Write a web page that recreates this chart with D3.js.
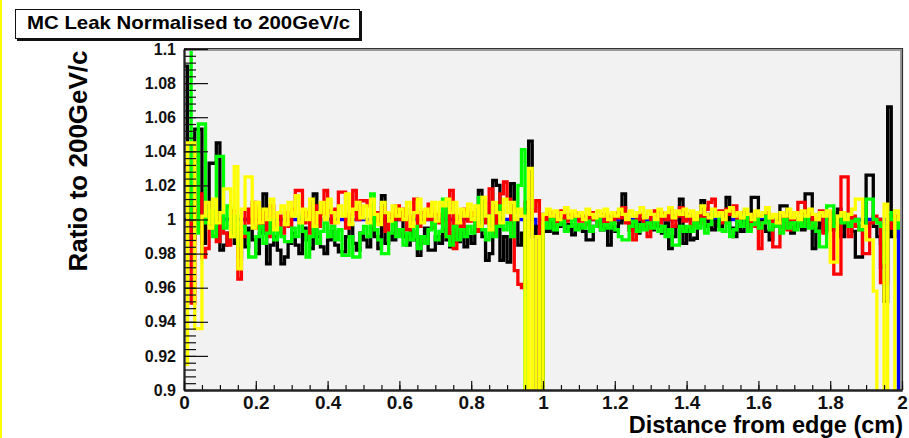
<!DOCTYPE html>
<html>
<head>
<meta charset="utf-8">
<script src="https://cdn.jsdelivr.net/npm/d3@7"></script>
<style>
  body { margin: 0; background: #fff; }
  svg { display: block; font-family: "Liberation Sans", Arial, Helvetica, sans-serif; }
</style>
</head>
<body>
<svg id="chart" width="909" height="438"></svg>
<script>
// 200 bins of 0.01 cm between 0 and 2 cm
let binWidth = 0.01

let xTicks = [0, 0.2, 0.4, 0.6, 0.8, 1, 1.2, 1.4, 1.6, 1.8, 2]
let xTickLabels = ["0", "0.2", "0.4", "0.6", "0.8", "1", "1.2", "1.4", "1.6", "1.8", "2"]
let yTicks = [0.9, 0.92, 0.94, 0.96, 0.98, 1, 1.02, 1.04, 1.06, 1.08, 1.1]
let yTickLabels = ["0.9", "0.92", "0.94", "0.96", "0.98", "1", "1.02", "1.04", "1.06", "1.08", "1.1"]

let blackRatio = [
    1.090, 1.010, 0.988, 1.053, 1.053, 0.986, 1.000, 1.033, 1.033, 1.045,
    0.982, 0.985, 0.992, 1.000, 0.986, 0.978, 0.990, 0.984, 0.995, 0.988,
    0.980, 0.992, 1.015, 0.974, 0.985, 0.990, 0.982, 0.974, 0.978, 0.986,
    0.992, 0.985, 0.980, 0.995, 0.988, 0.983, 1.015, 0.990, 0.984, 0.980,
    0.988, 0.993, 0.985, 0.981, 0.981, 0.990, 0.996, 0.986, 0.982, 0.992,
    0.988, 0.984, 0.995, 0.990, 0.983, 1.014, 0.986, 0.992, 0.988, 1.004,
    1.005, 0.990, 0.985, 0.993, 0.988, 0.979, 0.990, 0.995, 0.982, 0.982,
    0.990, 0.986, 0.994, 0.988, 0.984, 0.992, 0.987, 0.996, 0.984, 0.990,
    0.986, 0.994, 1.017, 0.990, 0.976, 0.980, 1.023, 1.020, 0.976, 0.990,
    0.975, 1.021, 1.000, 0.985, 0.992, 0.998, 1.046, 0.990, 0.996, 0.000,
    0.996, 0.993, 0.998, 0.992, 0.996, 1.000, 0.994, 0.997, 0.991, 0.995,
    0.997, 0.993, 0.988, 0.988, 0.996, 1.000, 0.994, 0.998, 0.985, 0.996,
    0.993, 0.998, 1.015, 0.999, 0.994, 0.997, 0.992, 1.000, 0.995, 0.998,
    0.994, 0.999, 0.996, 0.992, 0.998, 0.983, 0.990, 0.996, 1.012, 0.986,
    0.994, 0.988, 0.989, 0.998, 1.011, 0.996, 1.003, 0.994, 0.999, 0.996,
    1.002, 1.013, 0.995, 0.990, 0.998, 0.993, 1.000, 0.996, 1.013, 1.013,
    0.995, 0.999, 0.993, 0.988, 0.996, 0.998, 1.008, 1.008, 0.995, 0.992,
    0.996, 1.000, 0.994, 1.015, 1.015, 0.983, 0.995, 0.998, 0.993, 1.000,
    0.994, 0.998, 1.006, 0.990, 1.000, 0.996, 0.993, 0.978, 0.978, 0.998,
    1.026, 1.026, 0.996, 0.990, 0.986, 0.952, 1.066, 0.990, 1.000, 1.000
]

let redRatio = [
    1.032, 1.010, 0.951, 1.005, 1.015, 0.978, 0.983, 1.002, 0.995, 0.987,
    1.000, 0.992, 0.985, 1.005, 0.995, 0.965, 0.990, 1.006, 0.998, 1.010,
    0.995, 1.004, 1.000, 0.990, 1.008, 0.997, 1.002, 0.992, 1.004, 0.996,
    1.006, 1.017, 1.017, 0.998, 1.004, 0.992, 1.008, 0.996, 1.003, 1.017,
    1.005, 0.998, 1.006, 1.016, 1.016, 0.995, 1.003, 1.017, 1.000, 1.011,
    1.011, 1.008, 0.996, 1.004, 0.999, 1.007, 0.993, 1.003, 1.000, 1.008,
    1.000, 1.006, 0.994, 1.002, 1.012, 0.996, 1.004, 1.000, 1.009, 0.995,
    1.003, 0.998, 1.008, 0.990, 1.017, 0.983, 1.002, 0.996, 1.006, 0.999,
    1.004, 0.993, 1.002, 1.010, 0.998, 1.018, 0.992, 1.004, 1.015, 1.022,
    1.012, 0.998, 0.970, 0.962, 0.960, 1.010, 0.995, 1.005, 1.011, 0.000,
    1.003, 1.000, 1.004, 0.998, 1.002, 1.005, 0.999, 1.003, 1.001, 1.004,
    0.999, 1.002, 0.997, 1.004, 1.000, 0.996, 1.003, 0.998, 1.002, 0.999,
    1.004, 1.001, 1.007, 0.998, 0.994, 0.988, 1.000, 1.003, 0.997, 0.990,
    1.002, 1.005, 0.998, 1.004, 1.000, 1.006, 0.996, 1.002, 1.007, 0.999,
    1.003, 0.996, 1.000, 1.004, 0.998, 1.006, 1.010, 1.012, 1.002, 1.005,
    0.998, 1.006, 1.003, 1.008, 0.999, 1.004, 1.001, 0.994, 1.003, 0.996,
    0.983, 0.998, 1.004, 1.000, 0.984, 0.984, 0.996, 1.002, 0.994, 1.000,
    1.004, 1.010, 1.010, 0.998, 1.003, 0.996, 1.000, 1.005, 0.992, 0.998,
    1.004, 0.968, 0.968, 1.025, 1.025, 0.990, 1.002, 0.996, 0.994, 0.980,
    0.980, 0.998, 1.002, 1.000, 0.963, 0.963, 1.000, 0.995, 1.002, 1.000
]

let greenRatio = [
    1.150, 1.150, 1.000, 0.992, 1.056, 1.056, 0.998, 1.005, 0.990, 1.037,
    1.037, 0.995, 1.008, 0.990, 1.002, 0.985, 0.996, 0.992, 0.978, 0.978,
    0.990, 0.996, 0.986, 0.992, 1.000, 0.988, 0.995, 0.990, 0.987, 0.987,
    0.995, 0.990, 1.002, 0.993, 0.978, 0.990, 0.996, 0.986, 0.993, 0.998,
    0.990, 0.996, 0.988, 0.994, 0.979, 0.979, 0.990, 0.978, 0.978, 0.992,
    0.996, 0.990, 1.015, 0.994, 0.988, 0.980, 0.980, 0.992, 0.998, 0.990,
    0.994, 0.985, 0.992, 0.988, 0.996, 0.983, 0.990, 0.986, 0.994, 0.998,
    0.988, 0.993, 1.012, 0.990, 0.985, 0.996, 0.988, 0.994, 0.990, 0.996,
    0.992, 1.000, 1.013, 0.994, 0.988, 1.002, 0.990, 0.996, 1.008, 0.994,
    0.998, 0.990, 1.004, 1.020, 1.041, 0.000, 0.000, 0.000, 0.000, 0.000,
    0.998, 0.995, 1.000, 0.994, 0.997, 0.999, 0.993, 0.996, 1.000, 0.994,
    0.997, 0.995, 0.999, 0.993, 0.996, 1.000, 0.994, 0.997, 0.995, 0.998,
    0.994, 0.990, 0.988, 0.988, 0.996, 0.999, 0.993, 0.997, 0.994, 0.998,
    0.995, 0.999, 0.993, 0.996, 0.990, 0.994, 0.985, 0.985, 0.996, 0.993,
    0.996, 0.993, 0.998, 0.995, 1.000, 0.992, 0.997, 1.004, 1.002, 0.994,
    0.993, 0.998, 0.990, 0.994, 0.999, 0.996, 1.003, 0.993, 0.997, 1.000,
    0.995, 0.998, 1.002, 0.994, 0.997, 0.996, 0.992, 1.000, 0.995, 0.998,
    0.994, 0.999, 0.996, 1.002, 0.995, 0.998, 0.993, 0.984, 0.984, 1.008,
    1.008, 0.996, 1.002, 0.998, 1.003, 0.996, 0.999, 1.000, 0.994, 0.996,
    1.012, 1.012, 1.000, 0.998, 0.996, 0.975, 1.004, 1.000, 0.995, 1.000
]

let yellowRatio = [
    0.915, 1.045, 1.045, 0.936, 0.936, 1.002, 1.010, 0.995, 1.012, 0.998,
    1.004, 1.018, 1.018, 0.990, 1.031, 0.971, 1.006, 1.025, 1.025, 0.995,
    1.010, 0.998, 1.006, 1.000, 1.012, 0.994, 1.004, 1.008, 0.997, 1.010,
    1.002, 1.014, 0.998, 1.006, 1.000, 1.012, 0.996, 1.004, 1.010, 1.000,
    1.012, 1.004, 0.998, 1.008, 1.002, 1.015, 0.997, 1.006, 1.010, 1.001,
    1.008, 0.998, 1.012, 1.003, 0.997, 1.010, 1.004, 0.999, 1.008, 1.002,
    1.006, 1.000, 1.010, 0.996, 1.004, 1.012, 0.998, 1.006, 1.002, 1.010,
    0.999, 1.010, 1.008, 1.012, 1.004, 1.010, 0.998, 1.006, 1.002, 1.009,
    1.000, 1.008, 0.996, 1.013, 1.002, 0.994, 1.010, 1.004, 0.998, 1.012,
    1.004, 1.010, 1.000, 1.006, 1.002, 0.000, 1.030, 0.000, 0.990, 0.000,
    1.003, 1.006, 1.002, 1.005, 1.000, 1.004, 1.007, 1.001, 1.005, 1.002,
    1.004, 1.000, 1.006, 1.003, 1.001, 1.005, 1.002, 1.006, 1.000, 1.004,
    1.002, 1.006, 1.003, 1.000, 1.005, 1.002, 1.004, 1.007, 1.001, 1.005,
    1.003, 1.000, 1.006, 1.002, 1.004, 1.007, 1.001, 1.005, 1.003, 1.006,
    1.002, 1.005, 1.000, 1.004, 1.008, 1.003, 1.001, 1.006, 1.002, 1.004,
    1.000, 1.005, 1.007, 1.002, 1.004, 1.001, 1.006, 1.003, 1.000, 1.005,
    1.002, 1.004, 1.007, 1.001, 1.003, 0.998, 1.004, 1.002, 1.006, 1.001,
    1.004, 1.000, 1.005, 1.002, 1.006, 1.003, 1.000, 1.004, 1.002, 1.005,
    0.975, 0.975, 1.002, 1.004, 1.000, 1.003, 1.006, 1.012, 1.012, 0.996,
    0.988, 0.988, 0.958, 0.000, 0.000, 1.009, 0.000, 0.000, 1.005, 1.000
]

let blueRatio = [
    1, 1, 1, 1, 1, 1, 1, 1, 1, 1,
    1, 1, 1, 1, 1, 1, 1, 1, 1, 1,
    1, 1, 1, 1, 1, 1, 1, 1, 1, 1,
    1, 1, 1, 1, 1, 1, 1, 1, 1, 1,
    1, 1, 1, 1, 1, 1, 1, 1, 1, 1,
    1, 1, 1, 1, 1, 1, 1, 1, 1, 1,
    1, 1, 1, 1, 1, 1, 1, 1, 1, 1,
    1, 1, 1, 1, 1, 1, 1, 1, 1, 1,
    1, 1, 1, 1, 1, 1, 1, 1, 1, 1,
    1, 1, 1, 1, 1, 1, 1, 1, 0, 0,
    1, 1, 1, 1, 1, 1, 1, 1, 1, 1,
    1, 1, 1, 1, 1, 1, 1, 1, 1, 1,
    1, 1, 1, 1, 1, 1, 1, 1, 1, 1,
    1, 1, 1, 1, 1, 1, 1, 1, 1, 1,
    1, 1, 1, 1, 1, 1, 1, 1, 1, 1,
    1, 1, 1, 1, 1, 1, 1, 1, 1, 1,
    1, 1, 1, 1, 1, 1, 1, 1, 1, 1,
    1, 1, 1, 1, 1, 1, 1, 1, 1, 1,
    1, 1, 1, 1, 1, 1, 1, 1, 1, 1,
    1, 1, 1, 1, 0.972, 1, 1, 1, 1, 0
]

// drawing order: reference first, so the others chop it into dashes
let series = [
    { name: "blue", color: "#0000ff", values: blueRatio },
    { name: "black", color: "#000000", values: blackRatio },
    { name: "red", color: "#ff0000", values: redRatio },
    { name: "green", color: "#00ff00", values: greenRatio },
    { name: "yellow", color: "#ffff00", values: yellowRatio }
]

let margin = { top: 49, right: 7, bottom: 48, left: 184 },
    width = 909 - margin.left - margin.right,
    height = 438 - margin.top - margin.bottom

let x = d3.scaleLinear().domain([0, 2]).range([0, width])
let y = d3.scaleLinear().domain([0.9, 1.1]).range([height, 0])

let histLine = d3.line()
    .curve(d3.curveStepAfter)
    .x(function (d) { return x(d[0]) })
    .y(function (d) { return y(d[1]) })

let svg = d3.select("#chart")

// thin yellow stripe on the canvas edge
svg.append("rect")
    .attr("x", 0).attr("y", 0)
    .attr("width", 2).attr("height", 438)
    .attr("fill", "#ffff00")

svg.append("defs")
    .append("clipPath")
    .attr("id", "clip")
    .append("rect")
    .attr("width", width)
    .attr("height", height)

let focus = svg.append("g")
    .attr("transform", "translate(" + margin.left + "," + margin.top + ")")

function histPoints(values) {
    let pts = values.map(function (v, i) { return [i * binWidth, v] })
    pts.push([values.length * binWidth, values[values.length - 1]])
    return pts
}

function add_frame() {
    focus.append("rect")
        .attr("width", width)
        .attr("height", height)
        .attr("fill", "#f2f2f2")
}

function add_histograms() {
    series.forEach(function (s) {
        focus.append("path")
            .datum(histPoints(s.values))
            .attr("class", "hist " + s.name)
            .attr("d", histLine)
            .attr("fill", "none")
            .attr("stroke", s.color)
            .attr("stroke-width", 3.3)
            .attr("stroke-linejoin", "miter")
            .attr("clip-path", "url(#clip)")
    })
}

function add_axis() {
    // frame border (top / right with a soft shadow)
    focus.append("path")
        .attr("d", "M0,0.5H" + (width - 0.5) + "V" + height)
        .attr("fill", "none")
        .attr("stroke", "#9a9a9a")
        .attr("stroke-width", 3)
    focus.append("path")
        .attr("d", "M0,-0.5H" + (width + 0.5) + "V" + height)
        .attr("fill", "none")
        .attr("stroke", "#333")
        .attr("stroke-width", 1.2)

    let yMinor = d3.range(0, 51).map(function (i) { return 0.9 + i * 0.004 })
    let xMinor = d3.range(0, 41).map(function (i) { return i * 0.05 })

    focus.append("g")
        .attr("class", "y minor")
        .call(d3.axisLeft(y).tickValues(yMinor).tickSizeInner(-12).tickSizeOuter(0).tickFormat(""))

    focus.append("g")
        .attr("class", "x minor")
        .attr("transform", "translate(0," + height + ")")
        .call(d3.axisBottom(x).tickValues(xMinor).tickSizeInner(-5).tickSizeOuter(0).tickFormat(""))

    let yAxis = focus.append("g")
        .attr("class", "y axis")
        .call(d3.axisLeft(y).tickValues(yTicks).tickSizeInner(-24).tickSizeOuter(0).tickPadding(8)
            .tickFormat(function (d, i) { return yTickLabels[i] }))

    let xAxis = focus.append("g")
        .attr("class", "x axis")
        .attr("transform", "translate(0," + height + ")")
        .call(d3.axisBottom(x).tickValues(xTicks).tickSizeInner(-9).tickSizeOuter(0).tickPadding(6)
            .tickFormat(function (d, i) { return xTickLabels[i] }))

    focus.selectAll(".axis, .minor")
        .attr("font-family", null)
        .attr("font-size", null)
    focus.selectAll(".tick line")
        .attr("stroke", "#111")
        .attr("stroke-width", 1.2)
    focus.selectAll(".domain")
        .attr("stroke", "#222")
        .attr("stroke-width", 1.8)

    yAxis.selectAll("text")
        .style("font-size", "16px")
        .style("font-weight", "bold")
        .attr("fill", "#111")
    xAxis.selectAll("text")
        .style("font-size", "19px")
        .style("font-weight", "bold")
        .attr("fill", "#111")
}

function add_titles() {
    svg.append("text")
        .attr("x", 903)
        .attr("y", 433)
        .attr("text-anchor", "end")
        .style("font-size", "23.5px")
        .style("font-weight", "bold")
        .text("Distance from edge (cm)")

    svg.append("text")
        .attr("transform", "translate(87,161) rotate(-90)")
        .attr("text-anchor", "middle")
        .style("font-size", "26px")
        .style("font-weight", "bold")
        .text("Ratio to 200GeV/c")

    // title pave with shadow
    svg.append("rect")
        .attr("x", 17).attr("y", 11)
        .attr("width", 345).attr("height", 30)
        .attr("fill", "#111")
    svg.append("rect")
        .attr("x", 15.5).attr("y", 9.5)
        .attr("width", 344).attr("height", 29)
        .attr("fill", "#fff")
        .attr("stroke", "#111")
        .attr("stroke-width", 1)
    svg.append("text")
        .attr("x", 27)
        .attr("y", 29)
        .attr("textLength", 323)
        .attr("lengthAdjust", "spacingAndGlyphs")
        .style("font-size", "19px")
        .style("font-weight", "bold")
        .text("MC Leak Normalised to 200GeV/c")
}

add_frame()
add_histograms()
add_axis()
add_titles()
</script>
</body>
</html>
